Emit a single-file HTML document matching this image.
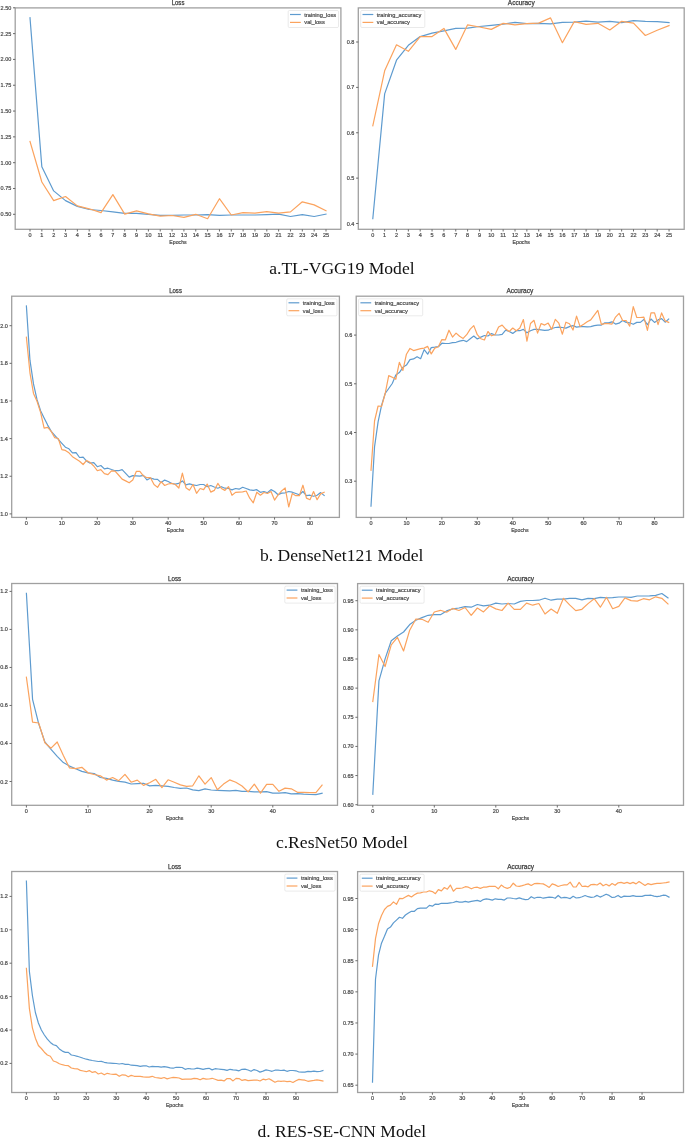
<!DOCTYPE html>
<html><head><meta charset="utf-8"><style>
html,body{margin:0;padding:0;background:#fff;}
body{width:685px;height:1137px;overflow:hidden;}
svg{display:block;will-change:transform;}
.tk{font-family:"Liberation Sans",sans-serif;font-size:5.5px;fill:#444;stroke:#555;stroke-width:0.22px;}
.ti{font-family:"Liberation Sans",sans-serif;font-size:6.5px;fill:#444;stroke:#3a3a3a;stroke-width:0.25px;}
.lg{font-size:5.68px;}
.cap{font-family:"Liberation Serif",serif;font-size:16.6px;fill:#111;}
</style></head><body>
<svg width="685" height="1137" viewBox="0 0 685 1137">
<rect width="685" height="1137" fill="#fff"/>
<polyline points="30,17.7 41.84,166.8 53.68,190.9 65.52,200.6 77.36,206.4 89.2,209.5 101.04,210.5 112.88,211.9 124.72,213.3 136.56,213.3 148.4,214.3 160.24,215.3 172.08,215.4 183.92,215 195.76,215 207.6,214.6 219.44,215.3 231.28,215 243.12,215 254.96,215 266.8,214.6 278.64,214.1 290.48,216.5 302.32,214.6 314.16,216.5 326,214.1" fill="none" stroke="#5e9bcf" stroke-width="1.2" stroke-linejoin="round" stroke-linecap="square"/>
<polyline points="30,141.5 41.84,182 53.68,200.6 65.52,196.5 77.36,205.9 89.2,208.8 101.04,212.6 112.88,194.6 124.72,214.1 136.56,210.9 148.4,213.8 160.24,216.2 172.08,215.5 183.92,217.4 195.76,214.3 207.6,218.7 219.44,198.7 231.28,215 243.12,212.6 254.96,213.1 266.8,211.7 278.64,213.1 290.48,211.9 302.32,201.8 314.16,204.9 326,210.7" fill="none" stroke="#fba35e" stroke-width="1.2" stroke-linejoin="round" stroke-linecap="square"/>
<rect x="15.2" y="7.9" width="325.7" height="221.4" fill="none" stroke="#a0a0a0" stroke-width="1.3"/>
<line x1="30" y1="229.3" x2="30" y2="231.5" stroke="#5a5a5a" stroke-width="0.9"/>
<text x="30" y="236.9" text-anchor="middle" class="tk">0</text>
<line x1="41.84" y1="229.3" x2="41.84" y2="231.5" stroke="#5a5a5a" stroke-width="0.9"/>
<text x="41.84" y="236.9" text-anchor="middle" class="tk">1</text>
<line x1="53.68" y1="229.3" x2="53.68" y2="231.5" stroke="#5a5a5a" stroke-width="0.9"/>
<text x="53.68" y="236.9" text-anchor="middle" class="tk">2</text>
<line x1="65.52" y1="229.3" x2="65.52" y2="231.5" stroke="#5a5a5a" stroke-width="0.9"/>
<text x="65.52" y="236.9" text-anchor="middle" class="tk">3</text>
<line x1="77.36" y1="229.3" x2="77.36" y2="231.5" stroke="#5a5a5a" stroke-width="0.9"/>
<text x="77.36" y="236.9" text-anchor="middle" class="tk">4</text>
<line x1="89.2" y1="229.3" x2="89.2" y2="231.5" stroke="#5a5a5a" stroke-width="0.9"/>
<text x="89.2" y="236.9" text-anchor="middle" class="tk">5</text>
<line x1="101.04" y1="229.3" x2="101.04" y2="231.5" stroke="#5a5a5a" stroke-width="0.9"/>
<text x="101.04" y="236.9" text-anchor="middle" class="tk">6</text>
<line x1="112.88" y1="229.3" x2="112.88" y2="231.5" stroke="#5a5a5a" stroke-width="0.9"/>
<text x="112.88" y="236.9" text-anchor="middle" class="tk">7</text>
<line x1="124.72" y1="229.3" x2="124.72" y2="231.5" stroke="#5a5a5a" stroke-width="0.9"/>
<text x="124.72" y="236.9" text-anchor="middle" class="tk">8</text>
<line x1="136.56" y1="229.3" x2="136.56" y2="231.5" stroke="#5a5a5a" stroke-width="0.9"/>
<text x="136.56" y="236.9" text-anchor="middle" class="tk">9</text>
<line x1="148.4" y1="229.3" x2="148.4" y2="231.5" stroke="#5a5a5a" stroke-width="0.9"/>
<text x="148.4" y="236.9" text-anchor="middle" class="tk">10</text>
<line x1="160.24" y1="229.3" x2="160.24" y2="231.5" stroke="#5a5a5a" stroke-width="0.9"/>
<text x="160.24" y="236.9" text-anchor="middle" class="tk">11</text>
<line x1="172.08" y1="229.3" x2="172.08" y2="231.5" stroke="#5a5a5a" stroke-width="0.9"/>
<text x="172.08" y="236.9" text-anchor="middle" class="tk">12</text>
<line x1="183.92" y1="229.3" x2="183.92" y2="231.5" stroke="#5a5a5a" stroke-width="0.9"/>
<text x="183.92" y="236.9" text-anchor="middle" class="tk">13</text>
<line x1="195.76" y1="229.3" x2="195.76" y2="231.5" stroke="#5a5a5a" stroke-width="0.9"/>
<text x="195.76" y="236.9" text-anchor="middle" class="tk">14</text>
<line x1="207.6" y1="229.3" x2="207.6" y2="231.5" stroke="#5a5a5a" stroke-width="0.9"/>
<text x="207.6" y="236.9" text-anchor="middle" class="tk">15</text>
<line x1="219.44" y1="229.3" x2="219.44" y2="231.5" stroke="#5a5a5a" stroke-width="0.9"/>
<text x="219.44" y="236.9" text-anchor="middle" class="tk">16</text>
<line x1="231.28" y1="229.3" x2="231.28" y2="231.5" stroke="#5a5a5a" stroke-width="0.9"/>
<text x="231.28" y="236.9" text-anchor="middle" class="tk">17</text>
<line x1="243.12" y1="229.3" x2="243.12" y2="231.5" stroke="#5a5a5a" stroke-width="0.9"/>
<text x="243.12" y="236.9" text-anchor="middle" class="tk">18</text>
<line x1="254.96" y1="229.3" x2="254.96" y2="231.5" stroke="#5a5a5a" stroke-width="0.9"/>
<text x="254.96" y="236.9" text-anchor="middle" class="tk">19</text>
<line x1="266.8" y1="229.3" x2="266.8" y2="231.5" stroke="#5a5a5a" stroke-width="0.9"/>
<text x="266.8" y="236.9" text-anchor="middle" class="tk">20</text>
<line x1="278.64" y1="229.3" x2="278.64" y2="231.5" stroke="#5a5a5a" stroke-width="0.9"/>
<text x="278.64" y="236.9" text-anchor="middle" class="tk">21</text>
<line x1="290.48" y1="229.3" x2="290.48" y2="231.5" stroke="#5a5a5a" stroke-width="0.9"/>
<text x="290.48" y="236.9" text-anchor="middle" class="tk">22</text>
<line x1="302.32" y1="229.3" x2="302.32" y2="231.5" stroke="#5a5a5a" stroke-width="0.9"/>
<text x="302.32" y="236.9" text-anchor="middle" class="tk">23</text>
<line x1="314.16" y1="229.3" x2="314.16" y2="231.5" stroke="#5a5a5a" stroke-width="0.9"/>
<text x="314.16" y="236.9" text-anchor="middle" class="tk">24</text>
<line x1="326" y1="229.3" x2="326" y2="231.5" stroke="#5a5a5a" stroke-width="0.9"/>
<text x="326" y="236.9" text-anchor="middle" class="tk">25</text>
<line x1="13" y1="214.3" x2="15.2" y2="214.3" stroke="#5a5a5a" stroke-width="0.9"/>
<text x="11.3" y="216.3" text-anchor="end" class="tk">0.50</text>
<line x1="13" y1="188.49" x2="15.2" y2="188.49" stroke="#5a5a5a" stroke-width="0.9"/>
<text x="11.3" y="190.49" text-anchor="end" class="tk">0.75</text>
<line x1="13" y1="162.68" x2="15.2" y2="162.68" stroke="#5a5a5a" stroke-width="0.9"/>
<text x="11.3" y="164.68" text-anchor="end" class="tk">1.00</text>
<line x1="13" y1="136.86" x2="15.2" y2="136.86" stroke="#5a5a5a" stroke-width="0.9"/>
<text x="11.3" y="138.86" text-anchor="end" class="tk">1.25</text>
<line x1="13" y1="111.05" x2="15.2" y2="111.05" stroke="#5a5a5a" stroke-width="0.9"/>
<text x="11.3" y="113.05" text-anchor="end" class="tk">1.50</text>
<line x1="13" y1="85.24" x2="15.2" y2="85.24" stroke="#5a5a5a" stroke-width="0.9"/>
<text x="11.3" y="87.24" text-anchor="end" class="tk">1.75</text>
<line x1="13" y1="59.42" x2="15.2" y2="59.42" stroke="#5a5a5a" stroke-width="0.9"/>
<text x="11.3" y="61.42" text-anchor="end" class="tk">2.00</text>
<line x1="13" y1="33.61" x2="15.2" y2="33.61" stroke="#5a5a5a" stroke-width="0.9"/>
<text x="11.3" y="35.61" text-anchor="end" class="tk">2.25</text>
<line x1="13" y1="7.8" x2="15.2" y2="7.8" stroke="#5a5a5a" stroke-width="0.9"/>
<text x="11.3" y="9.8" text-anchor="end" class="tk">2.50</text>
<text x="171.7" y="4.7" class="ti" textLength="12.7" lengthAdjust="spacingAndGlyphs">Loss</text>
<text x="169.35" y="243.8" class="tk" textLength="17.4" lengthAdjust="spacingAndGlyphs">Epochs</text>
<rect x="288.2" y="10.5" width="50.3" height="17" rx="1.2" fill="#fff" stroke="#dcdcdc" stroke-width="0.6"/>
<line x1="290" y1="14.5" x2="300.8" y2="14.5" stroke="#5e9bcf" stroke-width="1.2"/>
<text x="304.3" y="16.5" class="tk lg">training_loss</text>
<line x1="290" y1="22.4" x2="300.8" y2="22.4" stroke="#fba35e" stroke-width="1.2"/>
<text x="304.3" y="24.4" class="tk lg">val_loss</text>
<polyline points="372.8,218.7 384.65,93.9 396.5,60.2 408.35,45.3 420.2,36.6 432.05,33.2 443.9,30.8 455.75,28.4 467.6,28.2 479.45,26.5 491.3,25.3 503.15,24.1 515,22.4 526.85,23.6 538.7,23.3 550.55,23.8 562.4,22.3 574.25,22.1 586.1,21.1 597.95,22.1 609.8,21.3 621.65,22.6 633.5,20.6 645.35,21.3 657.2,21.6 669.05,22.6" fill="none" stroke="#5e9bcf" stroke-width="1.2" stroke-linejoin="round" stroke-linecap="square"/>
<polyline points="372.8,125.9 384.65,70.8 396.5,44.8 408.35,51.3 420.2,36.6 432.05,36.6 443.9,28.4 455.75,49.4 467.6,24.8 479.45,27 491.3,29.4 503.15,23.4 515,24.8 526.85,23.6 538.7,23.1 550.55,17.9 562.4,42.7 574.25,21.6 586.1,24.3 597.95,23.3 609.8,30 621.65,21.3 633.5,23.1 645.35,35.5 657.2,30.3 669.05,25.6" fill="none" stroke="#fba35e" stroke-width="1.2" stroke-linejoin="round" stroke-linecap="square"/>
<rect x="358.3" y="7.9" width="325.9" height="221.4" fill="none" stroke="#a0a0a0" stroke-width="1.3"/>
<line x1="372.8" y1="229.3" x2="372.8" y2="231.5" stroke="#5a5a5a" stroke-width="0.9"/>
<text x="372.8" y="236.9" text-anchor="middle" class="tk">0</text>
<line x1="384.65" y1="229.3" x2="384.65" y2="231.5" stroke="#5a5a5a" stroke-width="0.9"/>
<text x="384.65" y="236.9" text-anchor="middle" class="tk">1</text>
<line x1="396.5" y1="229.3" x2="396.5" y2="231.5" stroke="#5a5a5a" stroke-width="0.9"/>
<text x="396.5" y="236.9" text-anchor="middle" class="tk">2</text>
<line x1="408.35" y1="229.3" x2="408.35" y2="231.5" stroke="#5a5a5a" stroke-width="0.9"/>
<text x="408.35" y="236.9" text-anchor="middle" class="tk">3</text>
<line x1="420.2" y1="229.3" x2="420.2" y2="231.5" stroke="#5a5a5a" stroke-width="0.9"/>
<text x="420.2" y="236.9" text-anchor="middle" class="tk">4</text>
<line x1="432.05" y1="229.3" x2="432.05" y2="231.5" stroke="#5a5a5a" stroke-width="0.9"/>
<text x="432.05" y="236.9" text-anchor="middle" class="tk">5</text>
<line x1="443.9" y1="229.3" x2="443.9" y2="231.5" stroke="#5a5a5a" stroke-width="0.9"/>
<text x="443.9" y="236.9" text-anchor="middle" class="tk">6</text>
<line x1="455.75" y1="229.3" x2="455.75" y2="231.5" stroke="#5a5a5a" stroke-width="0.9"/>
<text x="455.75" y="236.9" text-anchor="middle" class="tk">7</text>
<line x1="467.6" y1="229.3" x2="467.6" y2="231.5" stroke="#5a5a5a" stroke-width="0.9"/>
<text x="467.6" y="236.9" text-anchor="middle" class="tk">8</text>
<line x1="479.45" y1="229.3" x2="479.45" y2="231.5" stroke="#5a5a5a" stroke-width="0.9"/>
<text x="479.45" y="236.9" text-anchor="middle" class="tk">9</text>
<line x1="491.3" y1="229.3" x2="491.3" y2="231.5" stroke="#5a5a5a" stroke-width="0.9"/>
<text x="491.3" y="236.9" text-anchor="middle" class="tk">10</text>
<line x1="503.15" y1="229.3" x2="503.15" y2="231.5" stroke="#5a5a5a" stroke-width="0.9"/>
<text x="503.15" y="236.9" text-anchor="middle" class="tk">11</text>
<line x1="515" y1="229.3" x2="515" y2="231.5" stroke="#5a5a5a" stroke-width="0.9"/>
<text x="515" y="236.9" text-anchor="middle" class="tk">12</text>
<line x1="526.85" y1="229.3" x2="526.85" y2="231.5" stroke="#5a5a5a" stroke-width="0.9"/>
<text x="526.85" y="236.9" text-anchor="middle" class="tk">13</text>
<line x1="538.7" y1="229.3" x2="538.7" y2="231.5" stroke="#5a5a5a" stroke-width="0.9"/>
<text x="538.7" y="236.9" text-anchor="middle" class="tk">14</text>
<line x1="550.55" y1="229.3" x2="550.55" y2="231.5" stroke="#5a5a5a" stroke-width="0.9"/>
<text x="550.55" y="236.9" text-anchor="middle" class="tk">15</text>
<line x1="562.4" y1="229.3" x2="562.4" y2="231.5" stroke="#5a5a5a" stroke-width="0.9"/>
<text x="562.4" y="236.9" text-anchor="middle" class="tk">16</text>
<line x1="574.25" y1="229.3" x2="574.25" y2="231.5" stroke="#5a5a5a" stroke-width="0.9"/>
<text x="574.25" y="236.9" text-anchor="middle" class="tk">17</text>
<line x1="586.1" y1="229.3" x2="586.1" y2="231.5" stroke="#5a5a5a" stroke-width="0.9"/>
<text x="586.1" y="236.9" text-anchor="middle" class="tk">18</text>
<line x1="597.95" y1="229.3" x2="597.95" y2="231.5" stroke="#5a5a5a" stroke-width="0.9"/>
<text x="597.95" y="236.9" text-anchor="middle" class="tk">19</text>
<line x1="609.8" y1="229.3" x2="609.8" y2="231.5" stroke="#5a5a5a" stroke-width="0.9"/>
<text x="609.8" y="236.9" text-anchor="middle" class="tk">20</text>
<line x1="621.65" y1="229.3" x2="621.65" y2="231.5" stroke="#5a5a5a" stroke-width="0.9"/>
<text x="621.65" y="236.9" text-anchor="middle" class="tk">21</text>
<line x1="633.5" y1="229.3" x2="633.5" y2="231.5" stroke="#5a5a5a" stroke-width="0.9"/>
<text x="633.5" y="236.9" text-anchor="middle" class="tk">22</text>
<line x1="645.35" y1="229.3" x2="645.35" y2="231.5" stroke="#5a5a5a" stroke-width="0.9"/>
<text x="645.35" y="236.9" text-anchor="middle" class="tk">23</text>
<line x1="657.2" y1="229.3" x2="657.2" y2="231.5" stroke="#5a5a5a" stroke-width="0.9"/>
<text x="657.2" y="236.9" text-anchor="middle" class="tk">24</text>
<line x1="669.05" y1="229.3" x2="669.05" y2="231.5" stroke="#5a5a5a" stroke-width="0.9"/>
<text x="669.05" y="236.9" text-anchor="middle" class="tk">25</text>
<line x1="356.1" y1="223.5" x2="358.3" y2="223.5" stroke="#5a5a5a" stroke-width="0.9"/>
<text x="354.4" y="225.5" text-anchor="end" class="tk">0.4</text>
<line x1="356.1" y1="178.13" x2="358.3" y2="178.13" stroke="#5a5a5a" stroke-width="0.9"/>
<text x="354.4" y="180.13" text-anchor="end" class="tk">0.5</text>
<line x1="356.1" y1="132.75" x2="358.3" y2="132.75" stroke="#5a5a5a" stroke-width="0.9"/>
<text x="354.4" y="134.75" text-anchor="end" class="tk">0.6</text>
<line x1="356.1" y1="87.38" x2="358.3" y2="87.38" stroke="#5a5a5a" stroke-width="0.9"/>
<text x="354.4" y="89.38" text-anchor="end" class="tk">0.7</text>
<line x1="356.1" y1="42" x2="358.3" y2="42" stroke="#5a5a5a" stroke-width="0.9"/>
<text x="354.4" y="44" text-anchor="end" class="tk">0.8</text>
<text x="507.85" y="4.7" class="ti" textLength="26.8" lengthAdjust="spacingAndGlyphs">Accuracy</text>
<text x="512.55" y="243.8" class="tk" textLength="17.4" lengthAdjust="spacingAndGlyphs">Epochs</text>
<rect x="360.7" y="10.5" width="64.1" height="17" rx="1.2" fill="#fff" stroke="#dcdcdc" stroke-width="0.6"/>
<line x1="362.5" y1="14.5" x2="373.3" y2="14.5" stroke="#5e9bcf" stroke-width="1.2"/>
<text x="376.8" y="16.5" class="tk lg">training_accuracy</text>
<line x1="362.5" y1="22.4" x2="373.3" y2="22.4" stroke="#fba35e" stroke-width="1.2"/>
<text x="376.8" y="24.4" class="tk lg">val_accuracy</text>
<polyline points="26.4,306 29.95,360.2 33.49,383.9 37.03,399.7 40.58,410.8 44.12,417.9 47.67,425.1 51.21,431.4 54.76,435.4 58.3,439.3 61.85,443.3 65.39,447.2 68.94,448.8 72.48,452.8 76.03,452.6 79.57,457.5 83.12,457.2 86.66,461.2 90.21,463.1 93.75,462.6 97.3,466.7 100.84,465.5 104.39,468.9 107.94,468.2 111.48,469.5 115.03,470.7 118.57,470.7 122.12,469.6 125.66,473.3 129.2,477.1 132.75,475.6 136.29,475.9 139.84,476.2 143.38,475.3 146.93,480 150.47,478 154.02,479.1 157.56,479.4 161.11,482.6 164.66,480.1 168.2,481.5 171.75,483.5 175.29,484.1 178.84,483.4 182.38,480.9 185.93,484.8 189.47,483.8 193.02,484.8 196.56,485.5 200.1,484.5 203.65,484.5 207.19,486.7 210.74,485.5 214.28,487 217.83,488.2 221.38,486.7 224.92,488.2 228.47,488.5 232.01,489.9 235.56,488.5 239.1,489.2 242.65,487.3 246.19,488.5 249.74,489.9 253.28,490.3 256.82,489.7 260.37,492.3 263.91,491.5 267.46,492.8 271,489.6 274.55,491.5 278.09,494.8 281.64,493.1 285.18,492.8 288.73,491.5 292.27,492.2 295.82,493.5 299.36,494.8 302.91,491.5 306.45,495.7 310,495.2 313.54,496.3 317.09,495.2 320.63,492.6 324.18,495.5" fill="none" stroke="#5e9bcf" stroke-width="1.2" stroke-linejoin="round" stroke-linecap="square"/>
<polyline points="26.4,337.2 29.95,372.8 33.49,393.4 37.03,401.3 40.58,412.4 44.12,428.2 47.67,427.4 51.21,431.4 54.76,437.7 58.3,438.5 61.85,449.6 65.39,450.4 68.94,452.8 72.48,456.7 76.03,459 79.57,461.2 83.12,464.5 86.66,460.4 90.21,462.6 93.75,466 97.3,470.7 100.84,469.6 104.39,473.6 107.94,474.6 111.48,470.9 115.03,471.1 118.57,475 122.12,479.1 125.66,480.9 129.2,482.8 132.75,480.1 136.29,471.4 139.84,471.4 143.38,475.8 146.93,477.7 150.47,477.7 154.02,484.5 157.56,487.4 161.11,481.6 164.66,485.5 168.2,484 171.75,483.4 175.29,484.5 178.84,488 182.38,473.1 185.93,487.7 189.47,490.2 193.02,484.5 196.56,493.3 200.1,488.5 203.65,489.6 207.19,484.1 210.74,492.1 214.28,490.4 217.83,483.4 221.38,488.5 224.92,490.4 228.47,486.6 232.01,495.3 235.56,492.4 239.1,492.1 242.65,491.8 246.19,491 249.74,498.2 253.28,502.8 256.82,492.2 260.37,495.2 263.91,492.5 267.46,493.5 271,491.5 274.55,500.1 278.09,494.8 281.64,490.9 285.18,488 288.73,507 292.27,493.5 295.82,495.7 299.36,495.7 302.91,485.2 306.45,498.1 310,499.7 313.54,491.5 317.09,499.7 320.63,493.9 324.18,492.2" fill="none" stroke="#fba35e" stroke-width="1.2" stroke-linejoin="round" stroke-linecap="square"/>
<rect x="11.7" y="296.2" width="327.7" height="221.2" fill="none" stroke="#a0a0a0" stroke-width="1.3"/>
<line x1="26.4" y1="517.4" x2="26.4" y2="519.6" stroke="#5a5a5a" stroke-width="0.9"/>
<text x="26.4" y="525" text-anchor="middle" class="tk">0</text>
<line x1="61.85" y1="517.4" x2="61.85" y2="519.6" stroke="#5a5a5a" stroke-width="0.9"/>
<text x="61.85" y="525" text-anchor="middle" class="tk">10</text>
<line x1="97.3" y1="517.4" x2="97.3" y2="519.6" stroke="#5a5a5a" stroke-width="0.9"/>
<text x="97.3" y="525" text-anchor="middle" class="tk">20</text>
<line x1="132.75" y1="517.4" x2="132.75" y2="519.6" stroke="#5a5a5a" stroke-width="0.9"/>
<text x="132.75" y="525" text-anchor="middle" class="tk">30</text>
<line x1="168.2" y1="517.4" x2="168.2" y2="519.6" stroke="#5a5a5a" stroke-width="0.9"/>
<text x="168.2" y="525" text-anchor="middle" class="tk">40</text>
<line x1="203.65" y1="517.4" x2="203.65" y2="519.6" stroke="#5a5a5a" stroke-width="0.9"/>
<text x="203.65" y="525" text-anchor="middle" class="tk">50</text>
<line x1="239.1" y1="517.4" x2="239.1" y2="519.6" stroke="#5a5a5a" stroke-width="0.9"/>
<text x="239.1" y="525" text-anchor="middle" class="tk">60</text>
<line x1="274.55" y1="517.4" x2="274.55" y2="519.6" stroke="#5a5a5a" stroke-width="0.9"/>
<text x="274.55" y="525" text-anchor="middle" class="tk">70</text>
<line x1="310" y1="517.4" x2="310" y2="519.6" stroke="#5a5a5a" stroke-width="0.9"/>
<text x="310" y="525" text-anchor="middle" class="tk">80</text>
<line x1="9.5" y1="513.9" x2="11.7" y2="513.9" stroke="#5a5a5a" stroke-width="0.9"/>
<text x="7.8" y="515.9" text-anchor="end" class="tk">1.0</text>
<line x1="9.5" y1="476.26" x2="11.7" y2="476.26" stroke="#5a5a5a" stroke-width="0.9"/>
<text x="7.8" y="478.26" text-anchor="end" class="tk">1.2</text>
<line x1="9.5" y1="438.62" x2="11.7" y2="438.62" stroke="#5a5a5a" stroke-width="0.9"/>
<text x="7.8" y="440.62" text-anchor="end" class="tk">1.4</text>
<line x1="9.5" y1="400.98" x2="11.7" y2="400.98" stroke="#5a5a5a" stroke-width="0.9"/>
<text x="7.8" y="402.98" text-anchor="end" class="tk">1.6</text>
<line x1="9.5" y1="363.34" x2="11.7" y2="363.34" stroke="#5a5a5a" stroke-width="0.9"/>
<text x="7.8" y="365.34" text-anchor="end" class="tk">1.8</text>
<line x1="9.5" y1="325.7" x2="11.7" y2="325.7" stroke="#5a5a5a" stroke-width="0.9"/>
<text x="7.8" y="327.7" text-anchor="end" class="tk">2.0</text>
<text x="169.2" y="293" class="ti" textLength="12.7" lengthAdjust="spacingAndGlyphs">Loss</text>
<text x="166.85" y="531.9" class="tk" textLength="17.4" lengthAdjust="spacingAndGlyphs">Epochs</text>
<rect x="286.7" y="298.8" width="50.3" height="17" rx="1.2" fill="#fff" stroke="#dcdcdc" stroke-width="0.6"/>
<line x1="288.5" y1="302.8" x2="299.3" y2="302.8" stroke="#5e9bcf" stroke-width="1.2"/>
<text x="302.8" y="304.8" class="tk lg">training_loss</text>
<line x1="288.5" y1="310.7" x2="299.3" y2="310.7" stroke="#fba35e" stroke-width="1.2"/>
<text x="302.8" y="312.7" class="tk lg">val_loss</text>
<polyline points="371,506.2 374.54,446.9 378.09,421.9 381.63,405.2 385.18,393.5 388.72,388.5 392.26,383.5 395.81,375.1 399.35,372.6 402.9,367.3 406.44,365.1 409.98,359.6 413.53,358.9 417.07,356.7 420.62,358.7 424.16,349.6 427.7,354.2 431.25,347.6 434.79,347.2 438.34,346.7 441.88,343.2 445.42,343.5 448.97,343.5 452.51,342.7 456.06,342.3 459.6,341.1 463.14,340.3 466.69,341.6 470.23,338.7 473.78,336 477.32,339 480.86,337.1 484.41,335.5 487.95,336 491.5,333.6 495.04,335 498.58,335 502.13,334.4 505.67,330.2 509.22,331.5 512.76,333.4 516.3,330.7 519.85,330.7 523.39,329.4 526.94,332.8 530.48,330.7 534.02,329.4 537.57,329.4 541.11,329.9 544.66,330.4 548.2,330.2 551.74,328.5 555.29,327.5 558.83,327.1 562.38,327.5 565.92,328.1 569.46,326.6 573.01,325.6 576.55,327.1 580.1,326.6 583.64,326.6 587.18,326.9 590.73,326.6 594.27,325.6 597.82,325.2 601.36,325.1 604.9,322.8 608.45,322.8 611.99,321.8 615.54,324.1 619.08,323.2 622.62,320.5 626.17,322.4 629.71,322.8 633.26,324.3 636.8,322.4 640.34,322.4 643.89,319.5 647.43,324.7 650.98,319 654.52,322.4 658.06,319.9 661.61,318.6 665.15,322.2 668.7,319" fill="none" stroke="#5e9bcf" stroke-width="1.2" stroke-linejoin="round" stroke-linecap="square"/>
<polyline points="371,470.3 374.54,421 378.09,406 381.63,406.3 385.18,393.5 388.72,375.6 392.26,377.3 395.81,379.3 399.35,362.3 402.9,370.4 406.44,354.2 409.98,348.4 413.53,350.6 417.07,349.6 420.62,348.7 424.16,348.1 427.7,346.4 431.25,353.9 434.79,348.1 438.34,346.7 441.88,339.6 445.42,339.8 448.97,330.2 452.51,337.1 456.06,333.1 459.6,336.3 463.14,338.4 466.69,334.7 470.23,329.1 473.78,325.6 477.32,334.7 480.86,338.7 484.41,340 487.95,331.5 491.5,335.8 495.04,334.7 498.58,327 502.13,325.1 505.67,329.1 509.22,331.5 512.76,328 516.3,330.7 519.85,328 523.39,319.5 526.94,341.1 530.48,323.5 534.02,320.3 537.57,333.1 541.11,323.5 544.66,325.1 548.2,323.1 551.74,329.4 555.29,319.4 558.83,323.2 562.38,334.2 565.92,322.2 569.46,323.7 573.01,330 576.55,316.1 580.1,326.6 583.64,324.3 587.18,321.8 590.73,319.9 594.27,315.2 597.82,310.4 601.36,324.3 604.9,323.7 608.45,323.7 611.99,324.1 615.54,317.1 619.08,313.3 622.62,320.5 626.17,320.5 629.71,326.2 633.26,306.6 636.8,317.5 640.34,317.5 643.89,317.1 647.43,330.4 650.98,312.9 654.52,312.9 658.06,324.7 661.61,312.9 665.15,320.9 668.7,322.4" fill="none" stroke="#fba35e" stroke-width="1.2" stroke-linejoin="round" stroke-linecap="square"/>
<rect x="356.2" y="296.2" width="327.3" height="221.2" fill="none" stroke="#a0a0a0" stroke-width="1.3"/>
<line x1="371" y1="517.4" x2="371" y2="519.6" stroke="#5a5a5a" stroke-width="0.9"/>
<text x="371" y="525" text-anchor="middle" class="tk">0</text>
<line x1="406.44" y1="517.4" x2="406.44" y2="519.6" stroke="#5a5a5a" stroke-width="0.9"/>
<text x="406.44" y="525" text-anchor="middle" class="tk">10</text>
<line x1="441.88" y1="517.4" x2="441.88" y2="519.6" stroke="#5a5a5a" stroke-width="0.9"/>
<text x="441.88" y="525" text-anchor="middle" class="tk">20</text>
<line x1="477.32" y1="517.4" x2="477.32" y2="519.6" stroke="#5a5a5a" stroke-width="0.9"/>
<text x="477.32" y="525" text-anchor="middle" class="tk">30</text>
<line x1="512.76" y1="517.4" x2="512.76" y2="519.6" stroke="#5a5a5a" stroke-width="0.9"/>
<text x="512.76" y="525" text-anchor="middle" class="tk">40</text>
<line x1="548.2" y1="517.4" x2="548.2" y2="519.6" stroke="#5a5a5a" stroke-width="0.9"/>
<text x="548.2" y="525" text-anchor="middle" class="tk">50</text>
<line x1="583.64" y1="517.4" x2="583.64" y2="519.6" stroke="#5a5a5a" stroke-width="0.9"/>
<text x="583.64" y="525" text-anchor="middle" class="tk">60</text>
<line x1="619.08" y1="517.4" x2="619.08" y2="519.6" stroke="#5a5a5a" stroke-width="0.9"/>
<text x="619.08" y="525" text-anchor="middle" class="tk">70</text>
<line x1="654.52" y1="517.4" x2="654.52" y2="519.6" stroke="#5a5a5a" stroke-width="0.9"/>
<text x="654.52" y="525" text-anchor="middle" class="tk">80</text>
<line x1="354" y1="481.2" x2="356.2" y2="481.2" stroke="#5a5a5a" stroke-width="0.9"/>
<text x="352.3" y="483.2" text-anchor="end" class="tk">0.3</text>
<line x1="354" y1="432.5" x2="356.2" y2="432.5" stroke="#5a5a5a" stroke-width="0.9"/>
<text x="352.3" y="434.5" text-anchor="end" class="tk">0.4</text>
<line x1="354" y1="383.8" x2="356.2" y2="383.8" stroke="#5a5a5a" stroke-width="0.9"/>
<text x="352.3" y="385.8" text-anchor="end" class="tk">0.5</text>
<line x1="354" y1="335.1" x2="356.2" y2="335.1" stroke="#5a5a5a" stroke-width="0.9"/>
<text x="352.3" y="337.1" text-anchor="end" class="tk">0.6</text>
<text x="506.45" y="293" class="ti" textLength="26.8" lengthAdjust="spacingAndGlyphs">Accuracy</text>
<text x="511.15" y="531.9" class="tk" textLength="17.4" lengthAdjust="spacingAndGlyphs">Epochs</text>
<rect x="358.6" y="298.8" width="64.1" height="17" rx="1.2" fill="#fff" stroke="#dcdcdc" stroke-width="0.6"/>
<line x1="360.4" y1="302.8" x2="371.2" y2="302.8" stroke="#5e9bcf" stroke-width="1.2"/>
<text x="374.7" y="304.8" class="tk lg">training_accuracy</text>
<line x1="360.4" y1="310.7" x2="371.2" y2="310.7" stroke="#fba35e" stroke-width="1.2"/>
<text x="374.7" y="312.7" class="tk lg">val_accuracy</text>
<polyline points="26.4,593.4 32.56,699.3 38.72,723.9 44.88,742 51.04,749.4 57.2,756.4 63.36,762.6 69.52,766.1 75.68,768.7 81.84,771.4 88,772.8 94.16,773.5 100.32,777.5 106.48,778.4 112.64,780.1 118.8,781.4 124.96,782.2 131.12,784 137.28,783.7 143.44,783.3 149.6,785.9 155.76,785.4 161.92,785.8 168.08,786.3 174.24,787.5 180.4,788.4 186.56,788 192.72,789.8 198.88,790.7 205.04,788.9 211.2,790 217.36,790.4 223.52,790.7 229.68,790.9 235.84,790.4 242,791.3 248.16,791.3 254.32,791.9 260.48,791.9 266.64,791.7 272.8,793.2 278.96,793.2 285.12,792.6 291.28,793.8 297.44,793.6 303.6,794.2 309.76,794.5 315.92,794.7 322.08,793.2" fill="none" stroke="#5e9bcf" stroke-width="1.2" stroke-linejoin="round" stroke-linecap="square"/>
<polyline points="26.4,677.3 32.56,722.1 38.72,723 44.88,742.7 51.04,748.2 57.2,742 63.36,755.5 69.52,767.9 75.68,768.7 81.84,767.3 88,772.8 94.16,774.5 100.32,775.8 106.48,780.1 112.64,777.5 118.8,780.7 124.96,774.4 131.12,782.2 137.28,780.1 143.44,785.4 149.6,782.8 155.76,779.3 161.92,787.7 168.08,779.8 174.24,782.2 180.4,784.9 186.56,786.3 192.72,785.8 198.88,775.8 205.04,784.2 211.2,777.6 217.36,789.8 223.52,784.1 229.68,779.9 235.84,782.2 242,786 248.16,791.9 254.32,784.1 260.48,793.2 266.64,784.3 272.8,784.3 278.96,791.3 285.12,788.1 291.28,788.8 297.44,792.3 303.6,792.3 309.76,792.6 315.92,792.6 322.08,785.2" fill="none" stroke="#fba35e" stroke-width="1.2" stroke-linejoin="round" stroke-linecap="square"/>
<rect x="11.7" y="583.5" width="325.8" height="221.8" fill="none" stroke="#a0a0a0" stroke-width="1.3"/>
<line x1="26.4" y1="805.3" x2="26.4" y2="807.5" stroke="#5a5a5a" stroke-width="0.9"/>
<text x="26.4" y="812.9" text-anchor="middle" class="tk">0</text>
<line x1="88" y1="805.3" x2="88" y2="807.5" stroke="#5a5a5a" stroke-width="0.9"/>
<text x="88" y="812.9" text-anchor="middle" class="tk">10</text>
<line x1="149.6" y1="805.3" x2="149.6" y2="807.5" stroke="#5a5a5a" stroke-width="0.9"/>
<text x="149.6" y="812.9" text-anchor="middle" class="tk">20</text>
<line x1="211.2" y1="805.3" x2="211.2" y2="807.5" stroke="#5a5a5a" stroke-width="0.9"/>
<text x="211.2" y="812.9" text-anchor="middle" class="tk">30</text>
<line x1="272.8" y1="805.3" x2="272.8" y2="807.5" stroke="#5a5a5a" stroke-width="0.9"/>
<text x="272.8" y="812.9" text-anchor="middle" class="tk">40</text>
<line x1="9.5" y1="781.5" x2="11.7" y2="781.5" stroke="#5a5a5a" stroke-width="0.9"/>
<text x="7.8" y="783.5" text-anchor="end" class="tk">0.2</text>
<line x1="9.5" y1="743.48" x2="11.7" y2="743.48" stroke="#5a5a5a" stroke-width="0.9"/>
<text x="7.8" y="745.48" text-anchor="end" class="tk">0.4</text>
<line x1="9.5" y1="705.46" x2="11.7" y2="705.46" stroke="#5a5a5a" stroke-width="0.9"/>
<text x="7.8" y="707.46" text-anchor="end" class="tk">0.6</text>
<line x1="9.5" y1="667.44" x2="11.7" y2="667.44" stroke="#5a5a5a" stroke-width="0.9"/>
<text x="7.8" y="669.44" text-anchor="end" class="tk">0.8</text>
<line x1="9.5" y1="629.42" x2="11.7" y2="629.42" stroke="#5a5a5a" stroke-width="0.9"/>
<text x="7.8" y="631.42" text-anchor="end" class="tk">1.0</text>
<line x1="9.5" y1="591.4" x2="11.7" y2="591.4" stroke="#5a5a5a" stroke-width="0.9"/>
<text x="7.8" y="593.4" text-anchor="end" class="tk">1.2</text>
<text x="168.05" y="580.8" class="ti" textLength="13.1" lengthAdjust="spacingAndGlyphs">Loss</text>
<text x="165.9" y="819.8" class="tk" textLength="17.4" lengthAdjust="spacingAndGlyphs">Epochs</text>
<rect x="284.8" y="586.1" width="50.3" height="17" rx="1.2" fill="#fff" stroke="#dcdcdc" stroke-width="0.6"/>
<line x1="286.6" y1="590.1" x2="297.4" y2="590.1" stroke="#5e9bcf" stroke-width="1.2"/>
<text x="300.9" y="592.1" class="tk lg">training_loss</text>
<line x1="286.6" y1="598" x2="297.4" y2="598" stroke="#fba35e" stroke-width="1.2"/>
<text x="300.9" y="600" class="tk lg">val_loss</text>
<polyline points="372.8,794.3 378.95,680.9 385.1,658.9 391.25,640.8 397.4,636 403.55,632 409.7,624.6 415.85,620.2 422,617.6 428.15,615.3 434.3,614.6 440.45,614.7 446.6,610.9 452.75,608.9 458.9,608 465.05,606.6 471.2,607.2 477.35,604.5 483.5,605.8 489.65,605.2 495.8,603.1 501.95,604 508.1,603.5 514.25,604 520.4,601.4 526.55,600.5 532.7,600.5 538.85,600.2 545,598.2 551.15,600.2 557.3,599.2 563.45,599.2 569.6,598.3 575.75,598.3 581.9,599.8 588.05,598.3 594.2,598.7 600.35,597.3 606.5,597.9 612.65,597.7 618.8,597 624.95,597 631.1,597.3 637.25,596 643.4,596 649.55,595.8 655.7,595.4 661.85,593.5 668,597.9" fill="none" stroke="#5e9bcf" stroke-width="1.2" stroke-linejoin="round" stroke-linecap="square"/>
<polyline points="372.8,701.6 378.95,654.5 385.1,666.5 391.25,644.8 397.4,637.3 403.55,651 409.7,630.2 415.85,619 422,619.3 428.15,622.3 434.3,612 440.45,610.3 446.6,612.2 452.75,608.4 458.9,610.5 465.05,607.5 471.2,615.4 477.35,608 483.5,611.9 489.65,605.8 495.8,608.9 501.95,610.5 508.1,603.1 514.25,609.3 520.4,609.3 526.55,603.1 532.7,605.2 538.85,603.5 545,614 551.15,609 557.3,613.3 563.45,598.3 569.6,604.9 575.75,610.6 581.9,609.3 588.05,603.6 594.2,598.7 600.35,607.2 606.5,597.3 612.65,608.7 618.8,606.4 624.95,597.9 631.1,600.6 637.25,601.1 643.4,598.7 649.55,599.8 655.7,596.8 661.85,598.3 668,604" fill="none" stroke="#fba35e" stroke-width="1.2" stroke-linejoin="round" stroke-linecap="square"/>
<rect x="357.6" y="583.6" width="325.9" height="221.7" fill="none" stroke="#a0a0a0" stroke-width="1.3"/>
<line x1="372.8" y1="805.3" x2="372.8" y2="807.5" stroke="#5a5a5a" stroke-width="0.9"/>
<text x="372.8" y="812.9" text-anchor="middle" class="tk">0</text>
<line x1="434.3" y1="805.3" x2="434.3" y2="807.5" stroke="#5a5a5a" stroke-width="0.9"/>
<text x="434.3" y="812.9" text-anchor="middle" class="tk">10</text>
<line x1="495.8" y1="805.3" x2="495.8" y2="807.5" stroke="#5a5a5a" stroke-width="0.9"/>
<text x="495.8" y="812.9" text-anchor="middle" class="tk">20</text>
<line x1="557.3" y1="805.3" x2="557.3" y2="807.5" stroke="#5a5a5a" stroke-width="0.9"/>
<text x="557.3" y="812.9" text-anchor="middle" class="tk">30</text>
<line x1="618.8" y1="805.3" x2="618.8" y2="807.5" stroke="#5a5a5a" stroke-width="0.9"/>
<text x="618.8" y="812.9" text-anchor="middle" class="tk">40</text>
<line x1="355.4" y1="804.7" x2="357.6" y2="804.7" stroke="#5a5a5a" stroke-width="0.9"/>
<text x="353.7" y="806.7" text-anchor="end" class="tk">0.60</text>
<line x1="355.4" y1="775.56" x2="357.6" y2="775.56" stroke="#5a5a5a" stroke-width="0.9"/>
<text x="353.7" y="777.56" text-anchor="end" class="tk">0.65</text>
<line x1="355.4" y1="746.41" x2="357.6" y2="746.41" stroke="#5a5a5a" stroke-width="0.9"/>
<text x="353.7" y="748.41" text-anchor="end" class="tk">0.70</text>
<line x1="355.4" y1="717.27" x2="357.6" y2="717.27" stroke="#5a5a5a" stroke-width="0.9"/>
<text x="353.7" y="719.27" text-anchor="end" class="tk">0.75</text>
<line x1="355.4" y1="688.13" x2="357.6" y2="688.13" stroke="#5a5a5a" stroke-width="0.9"/>
<text x="353.7" y="690.13" text-anchor="end" class="tk">0.80</text>
<line x1="355.4" y1="658.99" x2="357.6" y2="658.99" stroke="#5a5a5a" stroke-width="0.9"/>
<text x="353.7" y="660.99" text-anchor="end" class="tk">0.85</text>
<line x1="355.4" y1="629.84" x2="357.6" y2="629.84" stroke="#5a5a5a" stroke-width="0.9"/>
<text x="353.7" y="631.84" text-anchor="end" class="tk">0.90</text>
<line x1="355.4" y1="600.7" x2="357.6" y2="600.7" stroke="#5a5a5a" stroke-width="0.9"/>
<text x="353.7" y="602.7" text-anchor="end" class="tk">0.95</text>
<text x="507.15" y="580.9" class="ti" textLength="26.8" lengthAdjust="spacingAndGlyphs">Accuracy</text>
<text x="511.85" y="819.8" class="tk" textLength="17.4" lengthAdjust="spacingAndGlyphs">Epochs</text>
<rect x="360" y="586.2" width="64.1" height="17" rx="1.2" fill="#fff" stroke="#dcdcdc" stroke-width="0.6"/>
<line x1="361.8" y1="590.2" x2="372.6" y2="590.2" stroke="#5e9bcf" stroke-width="1.2"/>
<text x="376.1" y="592.2" class="tk lg">training_accuracy</text>
<line x1="361.8" y1="598.1" x2="372.6" y2="598.1" stroke="#fba35e" stroke-width="1.2"/>
<text x="376.1" y="600.1" class="tk lg">val_accuracy</text>
<polyline points="26.4,881.2 29.39,971.5 32.39,995.5 35.38,1012.5 38.38,1023 41.38,1030 44.37,1035 47.36,1039.2 50.36,1042.4 53.36,1044.7 56.35,1045.6 59.34,1048.9 62.34,1051.1 65.34,1052.4 68.33,1052.4 71.33,1055 74.32,1055.5 77.31,1056.3 80.31,1057.2 83.31,1058.3 86.3,1059.2 89.3,1059.9 92.29,1060.5 95.28,1061 98.28,1061.5 101.28,1061.4 104.27,1062.3 107.27,1062.9 110.26,1063.1 113.25,1063.3 116.25,1063.5 119.25,1064 122.24,1063.5 125.24,1064.3 128.23,1064.3 131.22,1065.2 134.22,1065.4 137.22,1065.7 140.21,1066.4 143.21,1065.8 146.2,1065.8 149.19,1067 152.19,1066.4 155.19,1066.6 158.18,1066.6 161.18,1067.2 164.17,1066.6 167.17,1067.2 170.16,1067.8 173.16,1068.2 176.15,1067.3 179.15,1067.3 182.14,1067.5 185.14,1069.3 188.13,1068.5 191.12,1068.9 194.12,1069 197.12,1068.1 200.11,1068.7 203.11,1069.3 206.1,1068.7 209.09,1068.3 212.09,1069.9 215.09,1068.7 218.08,1069 221.08,1069.3 224.07,1069.6 227.07,1070.4 230.06,1069.3 233.06,1069.9 236.05,1070.2 239.05,1070.8 242.04,1069.3 245.04,1069.1 248.03,1070 251.03,1071.3 254.02,1069.6 257.01,1070.5 260.01,1072.1 263,1071.1 266,1069.9 269,1070.5 271.99,1071.3 274.99,1070.2 277.98,1070.2 280.98,1070.5 283.97,1070.1 286.96,1071.3 289.96,1070.5 292.95,1070.5 295.95,1070.8 298.94,1072 301.94,1072.1 304.94,1072.1 307.93,1071.3 310.93,1071.7 313.92,1071.1 316.91,1071.7 319.91,1071.5 322.9,1070.5" fill="none" stroke="#5e9bcf" stroke-width="1.2" stroke-linejoin="round" stroke-linecap="square"/>
<polyline points="26.4,968.3 29.39,1008.6 32.39,1027.8 35.38,1038.2 38.38,1045.5 41.38,1048.5 44.37,1052.2 47.36,1055 50.36,1056.2 53.36,1061 56.35,1062 59.34,1063.8 62.34,1064.7 65.34,1065.5 68.33,1065.7 71.33,1068 74.32,1068.6 77.31,1068.8 80.31,1070.4 83.31,1071 86.3,1071.7 89.3,1070.6 92.29,1072.4 95.28,1071.6 98.28,1074 101.28,1073 104.27,1074.8 107.27,1073.3 110.26,1074 113.25,1074.4 116.25,1074.2 119.25,1076.3 122.24,1074.8 125.24,1075.1 128.23,1076.8 131.22,1075.4 134.22,1076.3 137.22,1076.3 140.21,1076.3 143.21,1076.8 146.2,1077.1 149.19,1077.1 152.19,1076.3 155.19,1077.5 158.18,1077.9 161.18,1078.3 164.17,1077.5 167.17,1078.9 170.16,1078 173.16,1077.4 176.15,1077.7 179.15,1078 182.14,1079.4 185.14,1079.2 188.13,1079.2 191.12,1079.2 194.12,1078.4 197.12,1078.6 200.11,1079.8 203.11,1078.4 206.1,1079.2 209.09,1079 212.09,1078.3 215.09,1079.2 218.08,1080.4 221.08,1080.1 224.07,1080.9 227.07,1078.6 230.06,1078.6 233.06,1080.9 236.05,1078.4 239.05,1078.6 242.04,1080.4 245.04,1079.6 248.03,1080.6 251.03,1080.4 254.02,1080.2 257.01,1080 260.01,1081 263,1079.2 266,1079.8 269,1078.8 271.99,1080.4 274.99,1082.3 277.98,1081 280.98,1081.3 283.97,1081 286.96,1081.6 289.96,1081.3 292.95,1082.5 295.95,1080.8 298.94,1079.4 301.94,1079.8 304.94,1080.2 307.93,1081.3 310.93,1080.8 313.92,1080.4 316.91,1079.8 319.91,1080.4 322.9,1081" fill="none" stroke="#fba35e" stroke-width="1.2" stroke-linejoin="round" stroke-linecap="square"/>
<rect x="11.7" y="871.5" width="325.8" height="221" fill="none" stroke="#a0a0a0" stroke-width="1.3"/>
<line x1="26.4" y1="1092.5" x2="26.4" y2="1094.7" stroke="#5a5a5a" stroke-width="0.9"/>
<text x="26.4" y="1100.1" text-anchor="middle" class="tk">0</text>
<line x1="56.35" y1="1092.5" x2="56.35" y2="1094.7" stroke="#5a5a5a" stroke-width="0.9"/>
<text x="56.35" y="1100.1" text-anchor="middle" class="tk">10</text>
<line x1="86.3" y1="1092.5" x2="86.3" y2="1094.7" stroke="#5a5a5a" stroke-width="0.9"/>
<text x="86.3" y="1100.1" text-anchor="middle" class="tk">20</text>
<line x1="116.25" y1="1092.5" x2="116.25" y2="1094.7" stroke="#5a5a5a" stroke-width="0.9"/>
<text x="116.25" y="1100.1" text-anchor="middle" class="tk">30</text>
<line x1="146.2" y1="1092.5" x2="146.2" y2="1094.7" stroke="#5a5a5a" stroke-width="0.9"/>
<text x="146.2" y="1100.1" text-anchor="middle" class="tk">40</text>
<line x1="176.15" y1="1092.5" x2="176.15" y2="1094.7" stroke="#5a5a5a" stroke-width="0.9"/>
<text x="176.15" y="1100.1" text-anchor="middle" class="tk">50</text>
<line x1="206.1" y1="1092.5" x2="206.1" y2="1094.7" stroke="#5a5a5a" stroke-width="0.9"/>
<text x="206.1" y="1100.1" text-anchor="middle" class="tk">60</text>
<line x1="236.05" y1="1092.5" x2="236.05" y2="1094.7" stroke="#5a5a5a" stroke-width="0.9"/>
<text x="236.05" y="1100.1" text-anchor="middle" class="tk">70</text>
<line x1="266" y1="1092.5" x2="266" y2="1094.7" stroke="#5a5a5a" stroke-width="0.9"/>
<text x="266" y="1100.1" text-anchor="middle" class="tk">80</text>
<line x1="295.95" y1="1092.5" x2="295.95" y2="1094.7" stroke="#5a5a5a" stroke-width="0.9"/>
<text x="295.95" y="1100.1" text-anchor="middle" class="tk">90</text>
<line x1="9.5" y1="1063.4" x2="11.7" y2="1063.4" stroke="#5a5a5a" stroke-width="0.9"/>
<text x="7.8" y="1065.4" text-anchor="end" class="tk">0.2</text>
<line x1="9.5" y1="1030" x2="11.7" y2="1030" stroke="#5a5a5a" stroke-width="0.9"/>
<text x="7.8" y="1032" text-anchor="end" class="tk">0.4</text>
<line x1="9.5" y1="996.6" x2="11.7" y2="996.6" stroke="#5a5a5a" stroke-width="0.9"/>
<text x="7.8" y="998.6" text-anchor="end" class="tk">0.6</text>
<line x1="9.5" y1="963.2" x2="11.7" y2="963.2" stroke="#5a5a5a" stroke-width="0.9"/>
<text x="7.8" y="965.2" text-anchor="end" class="tk">0.8</text>
<line x1="9.5" y1="929.8" x2="11.7" y2="929.8" stroke="#5a5a5a" stroke-width="0.9"/>
<text x="7.8" y="931.8" text-anchor="end" class="tk">1.0</text>
<line x1="9.5" y1="896.4" x2="11.7" y2="896.4" stroke="#5a5a5a" stroke-width="0.9"/>
<text x="7.8" y="898.4" text-anchor="end" class="tk">1.2</text>
<text x="168.05" y="868.8" class="ti" textLength="13.1" lengthAdjust="spacingAndGlyphs">Loss</text>
<text x="165.9" y="1107" class="tk" textLength="17.4" lengthAdjust="spacingAndGlyphs">Epochs</text>
<rect x="284.8" y="874.1" width="50.3" height="17" rx="1.2" fill="#fff" stroke="#dcdcdc" stroke-width="0.6"/>
<line x1="286.6" y1="878.1" x2="297.4" y2="878.1" stroke="#5e9bcf" stroke-width="1.2"/>
<text x="300.9" y="880.1" class="tk lg">training_loss</text>
<line x1="286.6" y1="886" x2="297.4" y2="886" stroke="#fba35e" stroke-width="1.2"/>
<text x="300.9" y="888" class="tk lg">val_loss</text>
<polyline points="372.5,1082.2 375.5,979.3 378.49,955.2 381.49,943.2 384.48,936.3 387.48,928.9 390.47,927.1 393.46,922.9 396.46,920.1 399.45,917.3 402.45,918.3 405.44,915 408.44,913 411.44,911.3 414.43,911.3 417.43,908.6 420.42,908.1 423.42,908.1 426.41,908.1 429.4,905.4 432.4,906.2 435.39,904.1 438.39,904.4 441.38,903.3 444.38,903.3 447.38,903.3 450.37,902.8 453.37,902.5 456.36,901.4 459.36,902.2 462.35,902.2 465.35,901.4 468.34,902.2 471.34,901.4 474.33,900.9 477.32,900.4 480.32,901.4 483.31,899.6 486.31,898.8 489.31,899.3 492.3,900.1 495.3,898.8 498.29,899.3 501.28,899.3 504.28,900.1 507.27,898 510.27,898 513.26,898.5 516.26,898.9 519.25,897.9 522.25,898.9 525.25,899.6 528.24,899.4 531.24,896.7 534.23,898.3 537.23,897.3 540.22,897.3 543.22,898.2 546.21,897.6 549.21,897.1 552.2,897.3 555.19,898.3 558.19,895.5 561.18,898 564.18,897.3 567.17,897.7 570.17,898.6 573.16,896.3 576.16,898 579.15,897.7 582.15,896.7 585.14,895.5 588.14,896.7 591.13,897.4 594.13,897 597.12,895.4 600.12,897.1 603.12,895.8 606.11,894.2 609.11,895.4 612.1,897.5 615.1,897.1 618.09,895.4 621.09,897.5 624.08,896.1 627.08,896.3 630.07,896.3 633.07,895.7 636.06,896.3 639.06,896.3 642.05,896.4 645.05,895.4 648.04,895.4 651.04,895.2 654.03,896.1 657.03,896.7 660.02,896.1 663.01,895.2 666.01,895.4 669,897.1" fill="none" stroke="#5e9bcf" stroke-width="1.2" stroke-linejoin="round" stroke-linecap="square"/>
<polyline points="372.5,966.3 375.5,938.6 378.49,923.8 381.49,915.5 384.48,909.5 387.48,906.4 390.47,905.1 393.46,901.9 396.46,904.4 399.45,898.4 402.45,898.7 405.44,897 408.44,895.4 411.44,897 414.43,894.7 417.43,893.1 420.42,892.8 423.42,892 426.41,892 429.4,890.8 432.4,891.6 435.39,893.7 438.39,889.6 441.38,890.9 444.38,887.5 447.38,889.2 450.37,885.1 453.37,891.2 456.36,888.4 459.36,888.4 462.35,888 465.35,886.7 468.34,887.2 471.34,888.8 474.33,887.5 477.32,887.2 480.32,888.4 483.31,887.2 486.31,887.2 489.31,886.4 492.3,886.4 495.3,886.4 498.29,888.8 501.28,885.1 504.28,887.2 507.27,888.4 510.27,887.2 513.26,883.2 516.26,886 519.25,886.3 522.25,885.6 525.25,884.7 528.24,883.9 531.24,885.5 534.23,883.7 537.23,883.3 540.22,883.7 543.22,883.9 546.21,885.5 549.21,887.4 552.2,883.9 555.19,884.9 558.19,886.5 561.18,885.5 564.18,884.9 567.17,884.9 570.17,882.1 573.16,886.8 576.16,887 579.15,882.4 582.15,886.5 585.14,886.2 588.14,886.8 591.13,884.6 594.13,884.4 597.12,885 600.12,883 603.12,885.8 606.11,884.3 609.11,885.9 612.1,883.6 615.1,885.3 618.09,882.8 621.09,882.4 624.08,883.4 627.08,882.4 630.07,883.6 633.07,882.4 636.06,883.9 639.06,881.5 642.05,883.6 645.05,885.5 648.04,883.6 651.04,884.6 654.03,883.9 657.03,883.4 660.02,883.4 663.01,883 666.01,882.7 669,882" fill="none" stroke="#fba35e" stroke-width="1.2" stroke-linejoin="round" stroke-linecap="square"/>
<rect x="357.6" y="871.6" width="325.9" height="220.9" fill="none" stroke="#a0a0a0" stroke-width="1.3"/>
<line x1="372.5" y1="1092.5" x2="372.5" y2="1094.7" stroke="#5a5a5a" stroke-width="0.9"/>
<text x="372.5" y="1100.1" text-anchor="middle" class="tk">0</text>
<line x1="402.45" y1="1092.5" x2="402.45" y2="1094.7" stroke="#5a5a5a" stroke-width="0.9"/>
<text x="402.45" y="1100.1" text-anchor="middle" class="tk">10</text>
<line x1="432.4" y1="1092.5" x2="432.4" y2="1094.7" stroke="#5a5a5a" stroke-width="0.9"/>
<text x="432.4" y="1100.1" text-anchor="middle" class="tk">20</text>
<line x1="462.35" y1="1092.5" x2="462.35" y2="1094.7" stroke="#5a5a5a" stroke-width="0.9"/>
<text x="462.35" y="1100.1" text-anchor="middle" class="tk">30</text>
<line x1="492.3" y1="1092.5" x2="492.3" y2="1094.7" stroke="#5a5a5a" stroke-width="0.9"/>
<text x="492.3" y="1100.1" text-anchor="middle" class="tk">40</text>
<line x1="522.25" y1="1092.5" x2="522.25" y2="1094.7" stroke="#5a5a5a" stroke-width="0.9"/>
<text x="522.25" y="1100.1" text-anchor="middle" class="tk">50</text>
<line x1="552.2" y1="1092.5" x2="552.2" y2="1094.7" stroke="#5a5a5a" stroke-width="0.9"/>
<text x="552.2" y="1100.1" text-anchor="middle" class="tk">60</text>
<line x1="582.15" y1="1092.5" x2="582.15" y2="1094.7" stroke="#5a5a5a" stroke-width="0.9"/>
<text x="582.15" y="1100.1" text-anchor="middle" class="tk">70</text>
<line x1="612.1" y1="1092.5" x2="612.1" y2="1094.7" stroke="#5a5a5a" stroke-width="0.9"/>
<text x="612.1" y="1100.1" text-anchor="middle" class="tk">80</text>
<line x1="642.05" y1="1092.5" x2="642.05" y2="1094.7" stroke="#5a5a5a" stroke-width="0.9"/>
<text x="642.05" y="1100.1" text-anchor="middle" class="tk">90</text>
<line x1="355.4" y1="1085.2" x2="357.6" y2="1085.2" stroke="#5a5a5a" stroke-width="0.9"/>
<text x="353.7" y="1087.2" text-anchor="end" class="tk">0.65</text>
<line x1="355.4" y1="1054.08" x2="357.6" y2="1054.08" stroke="#5a5a5a" stroke-width="0.9"/>
<text x="353.7" y="1056.08" text-anchor="end" class="tk">0.70</text>
<line x1="355.4" y1="1022.97" x2="357.6" y2="1022.97" stroke="#5a5a5a" stroke-width="0.9"/>
<text x="353.7" y="1024.97" text-anchor="end" class="tk">0.75</text>
<line x1="355.4" y1="991.85" x2="357.6" y2="991.85" stroke="#5a5a5a" stroke-width="0.9"/>
<text x="353.7" y="993.85" text-anchor="end" class="tk">0.80</text>
<line x1="355.4" y1="960.73" x2="357.6" y2="960.73" stroke="#5a5a5a" stroke-width="0.9"/>
<text x="353.7" y="962.73" text-anchor="end" class="tk">0.85</text>
<line x1="355.4" y1="929.62" x2="357.6" y2="929.62" stroke="#5a5a5a" stroke-width="0.9"/>
<text x="353.7" y="931.62" text-anchor="end" class="tk">0.90</text>
<line x1="355.4" y1="898.5" x2="357.6" y2="898.5" stroke="#5a5a5a" stroke-width="0.9"/>
<text x="353.7" y="900.5" text-anchor="end" class="tk">0.95</text>
<text x="507.15" y="868.9" class="ti" textLength="26.8" lengthAdjust="spacingAndGlyphs">Accuracy</text>
<text x="511.85" y="1107" class="tk" textLength="17.4" lengthAdjust="spacingAndGlyphs">Epochs</text>
<rect x="360" y="874.2" width="64.1" height="17" rx="1.2" fill="#fff" stroke="#dcdcdc" stroke-width="0.6"/>
<line x1="361.8" y1="878.2" x2="372.6" y2="878.2" stroke="#5e9bcf" stroke-width="1.2"/>
<text x="376.1" y="880.2" class="tk lg">training_accuracy</text>
<line x1="361.8" y1="886.1" x2="372.6" y2="886.1" stroke="#fba35e" stroke-width="1.2"/>
<text x="376.1" y="888.1" class="tk lg">val_accuracy</text>
<text x="269.2" y="274.2" class="cap" textLength="145.4" lengthAdjust="spacingAndGlyphs">a.TL-VGG19 Model</text>
<text x="259.9" y="560.7" class="cap" textLength="163.5" lengthAdjust="spacingAndGlyphs">b. DenseNet121 Model</text>
<text x="275.9" y="848.3" class="cap" textLength="132" lengthAdjust="spacingAndGlyphs">c.ResNet50 Model</text>
<text x="257.5" y="1136.6" class="cap" textLength="168.5" lengthAdjust="spacingAndGlyphs">d. RES-SE-CNN Model</text>
</svg>
</body></html>
